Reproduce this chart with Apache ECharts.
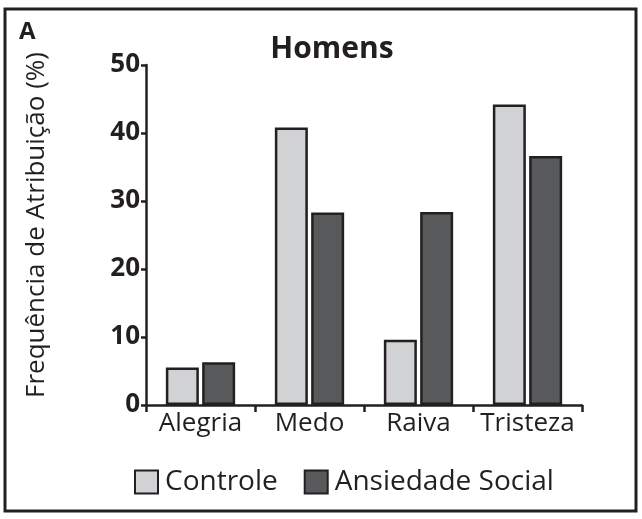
<!DOCTYPE html>
<html>
<head>
<meta charset="utf-8">
<script src="https://cdn.jsdelivr.net/npm/echarts@6/dist/echarts.min.js"></script>
<style>
  html, body { margin: 0; padding: 0; background: #fff; }
  #chart { width: 642px; height: 519px; }
</style>
</head>
<body>
<div id="chart"></div>
<script>
const categories = ['Alegria', 'Medo', 'Raiva', 'Tristeza'];
const controle = [5.5, 40.8, 9.6, 44.2];
const ansiedade = [6.3, 28.3, 28.4, 36.6];
const seriesNames = ['Controle', 'Ansiedade Social'];

const font = 'Open Sans, Noto Sans, sans-serif';
const ink = '#231f20';

const chart = echarts.init(document.getElementById('chart'));

chart.setOption({
    backgroundColor: '#fff',
    animation: false,
    title: {
        text: 'Homens',
        left: 327,
        textAlign: 'center',
        top: 29,
        textStyle: { fontFamily: font, fontSize: 30, fontWeight: 'bold', color: ink }
    },
    graphic: [
        {
            type: 'rect',
            shape: { x: 5, y: 9, width: 631, height: 502 },
            style: { fill: 'none', stroke: ink, lineWidth: 3 }
        },
        {
            type: 'text',
            left: 19,
            top: 20,
            style: { text: 'A', font: 'bold 24px ' + font, fill: ink }
        }
    ],
    legend: {
        data: seriesNames,
        left: 129,
        top: 463,
        icon: 'rect',
        itemWidth: 23,
        itemHeight: 23,
        itemGap: 26,
        textStyle: { fontFamily: font, fontSize: 28, color: ink, padding: [0, 0, 0, 2] }
    },
    grid: { left: 146, right: 60, top: 65, bottom: 114 },
    xAxis: {
        type: 'category',
        data: categories,
        axisLine: { lineStyle: { color: ink, width: 2.5 } },
        axisTick: { show: true, interval: 0, length: 7, lineStyle: { color: ink, width: 2.5 } },
        axisLabel: { interval: 0, fontFamily: font, fontSize: 26, color: ink, margin: 6 }
    },
    yAxis: {
        type: 'value',
        min: 0,
        max: 50,
        interval: 10,
        name: 'Frequência de Atribuição (%)',
        nameLocation: 'middle',
        nameGap: 96,
        nameTextStyle: { fontFamily: font, fontSize: 26, color: ink, padding: [0, 0, 0, 20] },
        splitLine: { show: false },
        axisLine: { show: true, lineStyle: { color: ink, width: 2.5 } },
        axisTick: { show: true, length: 5, lineStyle: { color: ink, width: 2.5 } },
        axisLabel: { fontFamily: font, fontSize: 26, fontWeight: 'bold', color: ink, margin: 6 }
    },
    series: [
        {
            name: seriesNames[0],
            type: 'bar',
            data: controle,
            barWidth: 33,
            barGap: '10%',
            itemStyle: { color: '#d1d2d4', borderColor: ink, borderWidth: 2.5 }
        },
        {
            name: seriesNames[1],
            type: 'bar',
            data: ansiedade,
            barWidth: 33,
            barGap: '10%',
            itemStyle: { color: '#58595b', borderColor: ink, borderWidth: 2.5 }
        }
    ]
});
</script>
</body>
</html>
